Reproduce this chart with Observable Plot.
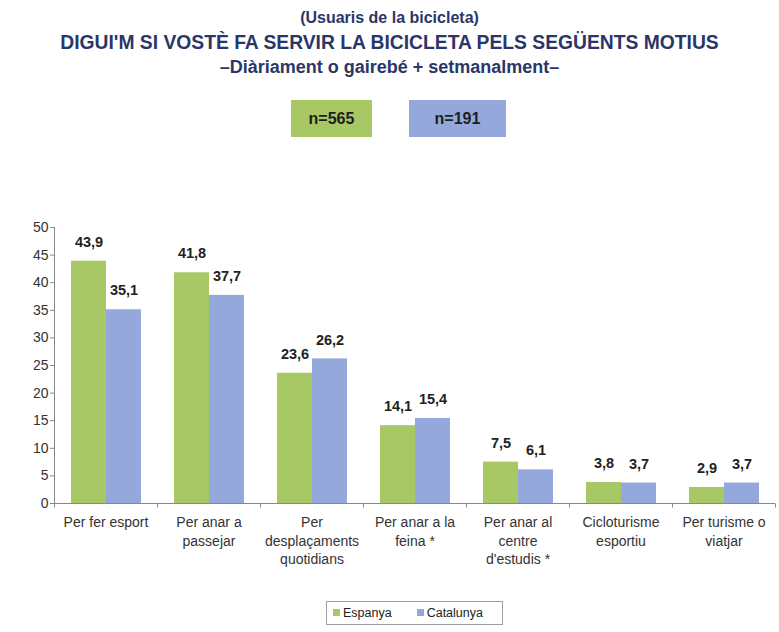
<!DOCTYPE html>
<html>
<head>
<meta charset="utf-8">
<script src="https://cdn.jsdelivr.net/npm/d3@7"></script>
<script src="https://cdn.jsdelivr.net/npm/@observablehq/plot@0.6"></script>
<style>
  body { margin: 0; background: #fff; font-family: "Liberation Sans", Arial, sans-serif; }
  #wrap { position: relative; width: 779px; height: 632px; overflow: hidden; background: #fff; }
  .t { position: absolute; left: 0; width: 779px; text-align: center; font-weight: bold; color: #2b3668; line-height: 24px; white-space: nowrap; }
  .nbox { position: absolute; top: 100px; height: 37px; line-height: 37px; text-align: center; font-weight: bold; font-size: 16px; color: #1e1e1e; }
  #chart { position: absolute; left: 0; top: 150px; }
  #legend { position: absolute; left: 326px; top: 601px; border: 1px solid #a0a0a0; font-size: 12.5px; color: #222; display: flex; align-items: center; justify-content: flex-start; padding-left: 6px; box-sizing: border-box; width: 177px; height: 24px; gap: 25px; }
  #legend span.sw { display: inline-block; width: 7px; height: 7px; margin-right: 3px; vertical-align: middle; position: relative; top: -1px; }
</style>
</head>
<body>
<div id="wrap">
  <div class="t" style="top:6px;font-size:16px">(Usuaris de la bicicleta)</div>
  <div class="t" style="top:31px;font-size:19.3px">DIGUI'M SI VOSTÈ FA SERVIR LA BICICLETA PELS SEGÜENTS MOTIUS</div>
  <div class="t" style="top:55px;font-size:18px">–Diàriament o gairebé + setmanalment–</div>
  <div id="nboxes"></div>
  <div id="chart"></div>
  <div id="legend"></div>
</div>
<script>
const categories = ["Per fer esport", "Per anar a passejar", "Per desplaçaments quotidians", "Per anar a la feina *", "Per anar al centre d'estudis *", "Cicloturisme esportiu", "Per turisme o viatjar"];
const tickLabels = ["Per fer esport", "Per anar a\npassejar", "Per\ndesplaçaments\nquotidians", "Per anar a la\nfeina *", "Per anar al\ncentre\nd'estudis *", "Cicloturisme\nesportiu", "Per turisme o\nviatjar"];
const series = ["Espanya", "Catalunya"];
const espanya = [43.9, 41.8, 23.6, 14.1, 7.5, 3.8, 2.9];
const catalunya = [35.1, 37.7, 26.2, 15.4, 6.1, 3.7, 3.7];
const sampleSizes = [565, 191];
const yTicks = [0, 5, 10, 15, 20, 25, 30, 35, 40, 45, 50];
const colors = ["#a8c866", "#95a8dc"];

const data = categories.flatMap((c, i) => [
  {cat: c, series: series[0], value: espanya[i]},
  {cat: c, series: series[1], value: catalunya[i]}
]);
const fmt = v => d3.format(".1f")(v).replace(".", ",");

// sample-size boxes
const nb = document.getElementById("nboxes");
const nPos = [{left: 291, width: 81}, {left: 409, width: 97}];
sampleSizes.forEach((n, i) => {
  const d = document.createElement("div");
  d.className = "nbox";
  d.style.left = nPos[i].left + "px";
  d.style.width = nPos[i].width + "px";
  d.style.background = colors[i];
  d.textContent = "n=" + n;
  nb.appendChild(d);
});

// legend
const lg = document.getElementById("legend");
series.forEach((s, i) => {
  const item = document.createElement("span");
  item.innerHTML = `<span class="sw" style="background:${colors[i]}"></span>${s}`;
  lg.appendChild(item);
});

// axis lines drawn once over the whole facet row
const axisLines = (index, scales, values, dim) => {
  const g = d3.create("svg:g").attr("stroke", "#888").attr("fill", "none");
  const n = categories.length;
  let x0, step;
  if (scales.fx && scales.fx.step) {
    x0 = scales.fx(categories[0]);
    step = scales.fx.step();
  } else {
    x0 = dim.marginLeft;
    step = (dim.width - dim.marginLeft - dim.marginRight) / n;
  }
  const y = scales.y;
  const yTop = y ? y(50) : dim.marginTop;
  const yBase = y ? y(0) : dim.height - dim.marginBottom;
  const y0 = Math.round(yBase) + 0.5;
  g.append("line").attr("x1", x0 + 0.5).attr("x2", x0 + 0.5).attr("y1", yTop).attr("y2", y0);
  g.append("line").attr("x1", x0).attr("x2", x0 + step * n).attr("y1", y0).attr("y2", y0);
  for (let i = 0; i <= n; i++) {
    const x = Math.round(x0 + i * step) + 0.5;
    g.append("line").attr("x1", x).attr("x2", x).attr("y1", y0).attr("y2", y0 + 4);
  }
  return g.node();
};

const chart = Plot.plot({
  width: 779,
  height: 445,
  marginTop: 77,
  marginBottom: 92,
  marginLeft: 53,
  marginRight: 3,
  style: {fontFamily: "'Liberation Sans', Arial, sans-serif", color: "#333", background: "transparent"},
  fx: {domain: categories, padding: 0, label: null, axis: null},
  x: {domain: series, paddingInner: 0, paddingOuter: 0.435, axis: null},
  y: {domain: [0, 50], axis: null},
  color: {domain: series, range: colors},
  marks: [
    Plot.barY(data, {fx: "cat", x: "series", y: "value", fill: "series"}),
    Plot.text(data, {fx: "cat", x: "series", y: "value", text: d => fmt(d.value), dy: -19, lineAnchor: "middle", fontWeight: "bold", fontSize: 14.5, fill: "#222"}),
    Plot.axisY({ticks: yTicks, tickSize: 4, tickPadding: 2, fontSize: 14, stroke: "#888", label: null}),
    Plot.axisFx({anchor: "bottom", tickSize: 0, tickPadding: 11, fontSize: 14, lineHeight: 1.3, label: null, tickFormat: c => tickLabels[categories.indexOf(c)]}),
    Plot.frame({facet: "super", stroke: "none", render: axisLines})
  ]
});
document.getElementById("chart").appendChild(chart);
</script>
</body>
</html>
